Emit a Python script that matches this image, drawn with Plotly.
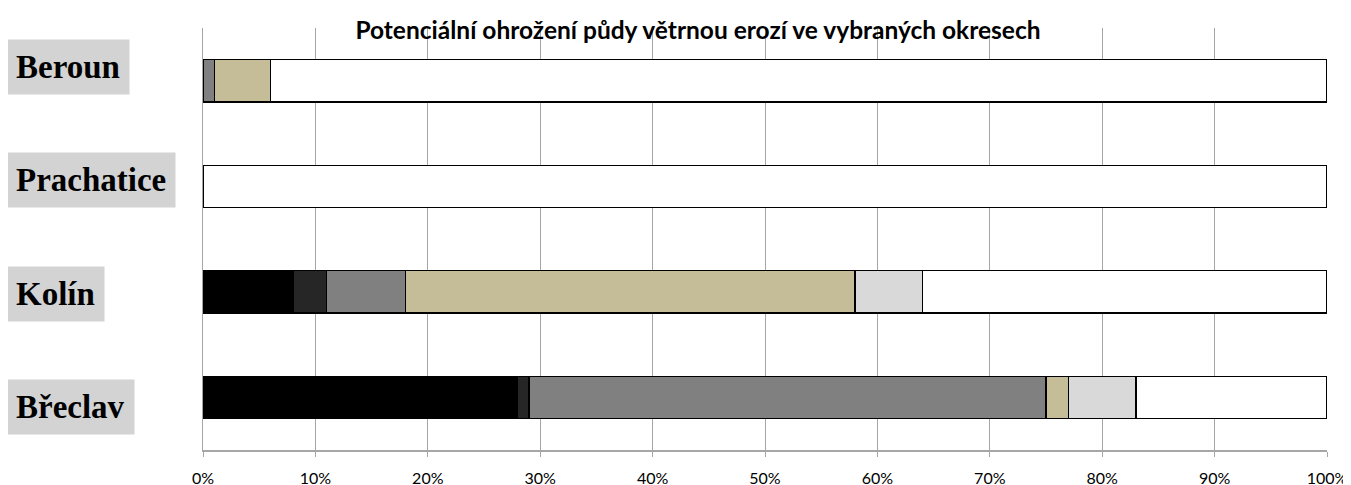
import plotly.graph_objects as go

districts = ["Beroun", "Prachatice", "Kolín", "Břeclav"]
series_names = ["Nejohroženější", "Velmi ohrožené", "Silně ohrožené", "Ohrožené", "Náchylné", "Bez ohrožení"]
values = {
    "Nejohroženější": [0, 0, 8, 28],
    "Velmi ohrožené": [0, 0, 3, 1],
    "Silně ohrožené": [1, 0, 7, 46],
    "Ohrožené": [5, 0, 40, 2],
    "Náchylné": [0, 0, 6, 6],
    "Bez ohrožení": [94, 100, 36, 17],
}
colors = ["#000000", "#262626", "#808080", "#c4bd97", "#d9d9d9", "#ffffff"]
x_ticks = [0, 10, 20, 30, 40, 50, 60, 70, 80, 90, 100]
x_tick_labels = [f"{t}%" for t in x_ticks]
title_text = "Potenciální ohrožení půdy větrnou erozí ve vybraných okresech"

fig = go.Figure()
for name, col in zip(series_names, colors):
    fig.add_trace(go.Bar(
        y=districts, x=values[name], name=name, orientation="h",
        marker=dict(color=col, line=dict(color="#000000", width=1.3)),
        width=0.4, showlegend=False,
    ))

# page body has an 8px margin, so the figure is drawn at (8, 8)
OFF = 8
W, H = 1351, 485
ml, mt = 203 - OFF, 28 - OFF
mr = W - (1327 - OFF)
mb = H - (450 - OFF)
fig.update_layout(
    width=W, height=H, barmode="stack",
    margin=dict(l=ml, r=mr, t=mt, b=mb, autoexpand=False),
    plot_bgcolor="white", paper_bgcolor="white",
    xaxis=dict(range=[0, 100], tickvals=x_ticks, ticktext=x_tick_labels,
               showgrid=True, gridcolor="#a6a6a6", gridwidth=1,
               showline=True, linecolor="#a6a6a6", linewidth=1.5,
               ticks="outside", ticklen=5, tickcolor="#a6a6a6",
               ticklabelstandoff=8,
               tickfont=dict(family="Lato, Liberation Sans", size=16, color="#000000"),
               zeroline=False, automargin=False),
    yaxis=dict(categoryorder="array", categoryarray=districts, autorange="reversed",
               showticklabels=False, showgrid=False, showline=True,
               linecolor="#a6a6a6", linewidth=1, zeroline=False, automargin=False),
    title=dict(text="<b>" + title_text + "</b>", x=(698 - OFF) / W, xanchor="center",
               y=1 - (30 - OFF) / H, yanchor="middle", automargin=False,
               font=dict(family="Lato, Liberation Sans", size=24.5, color="#000000")),
)

# category labels in grey boxes on the left, evenly spaced
label_top_px, label_step_px = 67 - OFF, 113.3
for i, d in enumerate(districts):
    ypx = label_top_px + i * label_step_px
    fig.add_annotation(
        text="<b>" + d + "</b>", xref="paper", yref="paper",
        x=(-2 - ml) / (W - ml - mr), xanchor="left",
        y=1 - (ypx - mt) / (H - mt - mb), yanchor="middle",
        showarrow=False, bgcolor="#d3d3d3", borderpad=9,
        font=dict(family="Liberation Serif, DejaVu Serif", size=33, color="#000000"),
    )

fig.write_html("out.html")
